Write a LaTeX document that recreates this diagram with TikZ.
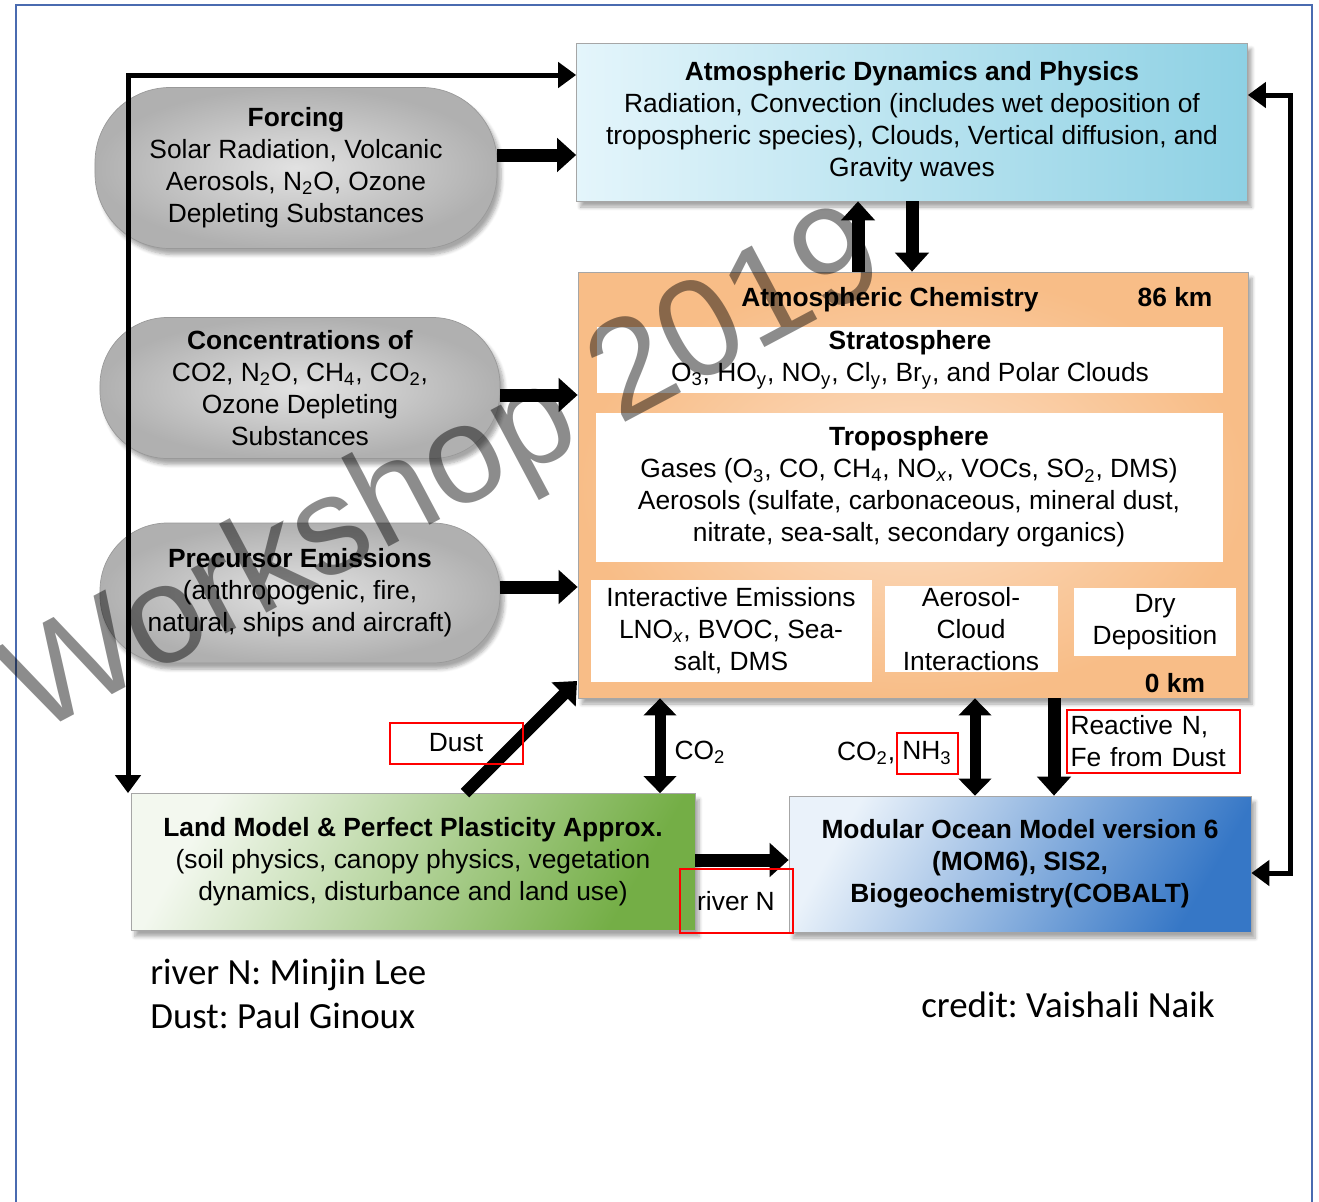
\documentclass[tikz,border=0pt]{standalone}
\usepackage{fontspec}
\setmainfont{Liberation Sans}
\newfontfamily\notefont{Carlito}
\usetikzlibrary{arrows.meta,positioning,shadows.blur}
\definecolor{frameblue}{HTML}{4A6BB0}
\definecolor{dynL}{HTML}{E4F5FB}
\definecolor{dynR}{HTML}{8ED1E4}
\definecolor{chemin}{HTML}{FCDFC6}
\definecolor{chemout}{HTML}{F8BD87}
\definecolor{pillin}{HTML}{E2E2E2}
\definecolor{pillout}{HTML}{B0B0B0}
\definecolor{landL}{HTML}{F3F8EF}
\definecolor{landR}{HTML}{74AE46}
\definecolor{oceanL}{HTML}{EAF2FA}
\definecolor{oceanR}{HTML}{3677C6}
\tikzset{
  txt/.style={font=\fontsize{15}{18.2}\selectfont,align=center,inner sep=0pt},
  soft/.style={blur shadow={shadow xshift=0.8mm,shadow yshift=-1.2mm,shadow opacity=35,shadow blur steps=6}},
  pill/.style={txt,draw=black!40,shading=radial,inner color=pillin,outer color=pillout,soft},
  panel/.style={txt,draw=black!35,rectangle,soft},
  whitebox/.style={txt,fill=white},
  redbox/.style={txt,draw=red,line width=0.4mm},
  fatarrow/.style={line width=2.6mm,-{Triangle[length=3.8mm,width=6.6mm]}},
  fatboth/.style={line width=2.2mm,{Triangle[length=3.4mm,width=6.4mm]}-{Triangle[length=3.4mm,width=6.4mm]}},
  loopline/.style={line width=1mm,{Triangle[length=3.6mm,width=5mm]}-{Triangle[length=3.6mm,width=5mm]}},
  frame/.style={draw=frameblue,line width=0.4mm},
  note/.style={font=\notefont\fontsize{21}{25}\selectfont,align=left,inner sep=0pt}
}
\begin{document}
\frenchspacing
\begin{tikzpicture}[x=0.2mm,y=-0.2mm]
  \useasboundingbox (0,0) rectangle (1319,1202);
  \draw[frame] (16,1202) -- (16,5) -- (1312,5) -- (1312,1202);

  % model components
  \node[panel,left color=dynL,right color=dynR,minimum width=134.2mm,minimum height=31.6mm] (atmdyn) at (912,122)
    {\textbf{Atmospheric Dynamics and Physics}\\Radiation, Convection (includes wet deposition of\\tropospheric species), Clouds, Vertical diffusion, and\\Gravity waves};
  \node[panel,shading=radial,inner color=chemin,outer color=chemout,minimum width=134mm,minimum height=85.2mm] (chem) at (913,485) {};
  \node[txt,font=\bfseries\fontsize{15}{18.2}\selectfont] (chemtitle) at (890,300) {Atmospheric Chemistry};
  \node[txt,font=\bfseries\fontsize{15}{18.2}\selectfont] (top) at (1175,297) {86 km};
  \node[txt,font=\bfseries\fontsize{15}{18.2}\selectfont] (ground) at (1175,683) {0 km};
  \node[whitebox,minimum width=125.2mm,minimum height=13.2mm] (strat) at (910,360)
    {\textbf{Stratosphere}\\O\textsubscript{3}, HO\textsubscript{y}, NO\textsubscript{y}, Cl\textsubscript{y}, Br\textsubscript{y}, and Polar Clouds};
  \node[whitebox,minimum width=125.4mm,minimum height=29.8mm] (trop) at (909,487)
    {\textbf{Troposphere}\\Gases (O\textsubscript{3}, CO, CH\textsubscript{4}, NO\textsubscript{\itshape x}, VOCs, SO\textsubscript{2}, DMS)\\Aerosols (sulfate, carbonaceous, mineral dust,\\nitrate, sea-salt, secondary organics)};
  \node[whitebox,minimum width=56.2mm,minimum height=20.4mm] (emis) at (731,631)
    {Interactive Emissions\\LNO\textsubscript{\itshape x}, BVOC, Sea-\\salt, DMS};
  \node[whitebox,minimum width=34.6mm,minimum height=17.2mm] (acloud) at (971,629)
    {Aerosol-\\Cloud\\Interactions};
  \node[whitebox,minimum width=32.4mm,minimum height=13.6mm] (drydep) at (1155,622)
    {Dry\\Deposition};

  \node[pill,rounded corners=15mm,minimum width=80.4mm,minimum height=32.2mm] (forcing) at (296,168)
    {\textbf{Forcing}\\Solar Radiation, Volcanic\\Aerosols, N\textsubscript{2}O, Ozone\\Depleting Substances};
  \node[pill,rounded corners=13.5mm,minimum width=80mm,minimum height=28.2mm] (conc) at (300,388)
    {\textbf{Concentrations of}\\CO2, N\textsubscript{2}O, CH\textsubscript{4}, CO\textsubscript{2},\\Ozone Depleting\\Substances};
  \node[pill,rounded corners=13.5mm,minimum width=80mm,minimum height=28mm] (precur) at (300,593)
    {\textbf{Precursor Emissions}\\(anthropogenic, fire,\\natural, ships and aircraft)};

  \node[panel,left color=landL,right color=landR,shading angle=60,minimum width=112.8mm,minimum height=27.4mm] (land) at (413,862)
    {\textbf{Land Model \& Perfect Plasticity Approx.}\\(soil physics, canopy physics, vegetation\\dynamics, disturbance and land use)};
  \node[panel,left color=oceanL,right color=oceanR,shading angle=60,minimum width=92.4mm,minimum height=27.2mm] (ocean) at (1020,864)
    {\textbf{Modular Ocean Model version 6}\\\textbf{(MOM6), SIS2,}\\\textbf{Biogeochemistry(COBALT)}};

  % couplings
  \coordinate (tl) at (128,75);
  \coordinate (tr) at (1290,95);
  \coordinate (br) at (1290,873);
  \coordinate (fz) at (0,155);
  \coordinate (cz) at (0,395);
  \coordinate (pz) at (0,587);
  \coordinate (upx) at (858,0);
  \coordinate (dnx) at (912,0);
  \coordinate (dust) at (465,0);
  \coordinate (dusttip) at (577,681);
  \coordinate (co2) at (660,0);
  \coordinate (nh3) at (975,0);
  \coordinate (rn) at (1054,0);
  \coordinate (rv) at (0,860);

  \draw[loopline] (tl |- land.north) -- (tl) -- (atmdyn.west |- tl);
  \draw[loopline] (atmdyn.east |- tr) -- (tr) -- (br) -- (ocean.east |- br);
  \draw[fatarrow] (forcing.east |- fz) -- (atmdyn.west |- fz);
  \draw[fatarrow] (conc.east |- cz) -- (chem.west |- cz);
  \draw[fatarrow] (precur.east |- pz) -- (chem.west |- pz);
  \draw[fatarrow] (chem.north -| upx) -- (atmdyn.south -| upx);
  \draw[fatarrow] (atmdyn.south -| dnx) -- (chem.north -| dnx);
  \draw[fatarrow,line width=2.4mm] (land.north -| dust) -- (dusttip);
  \draw[fatboth] (chem.south -| co2) -- (land.north -| co2);
  \draw[fatboth] (chem.south -| nh3) -- (ocean.north -| nh3);
  \draw[fatarrow] (chem.south -| rn) -- (ocean.north -| rn);
  \draw[fatarrow] (land.east |- rv) -- (ocean.west |- rv);

  % flux labels
  \node[redbox,minimum width=26.6mm,minimum height=8.2mm] (dustlbl) at (456,743) {Dust};
  \node[txt] (co2lbl) at (700,752) {CO\textsubscript{2}};
  \node[redbox,minimum width=12.2mm,minimum height=8.2mm] (nh3lbl) at (927,753) {NH\textsubscript{3}};
  \node[txt,anchor=east] (co2b) at (nh3lbl.west) {CO\textsubscript{2},};
  \node[redbox,minimum width=34.6mm,minimum height=12.6mm,text width=33mm,align=left] (rnlbl) at (1153,741)
    {Reactive N,\\Fe from Dust};
  \node[redbox,minimum width=22.6mm,minimum height=12.8mm] (rivlbl) at (736,901) {river N};

  \node[note,anchor=west] (names) at (150,994) {river N: Minjin Lee\\Dust: Paul Ginoux};
  \node[note,anchor=west] (credit) at (921,1005) {credit: Vaishali Naik};

  \node[rotate=28,inner sep=0pt,text=black,text opacity=0.45,font=\fontsize{79}{79}\selectfont] (wm) at (447,476) {Workshop 2019};
\end{tikzpicture}
\end{document}
